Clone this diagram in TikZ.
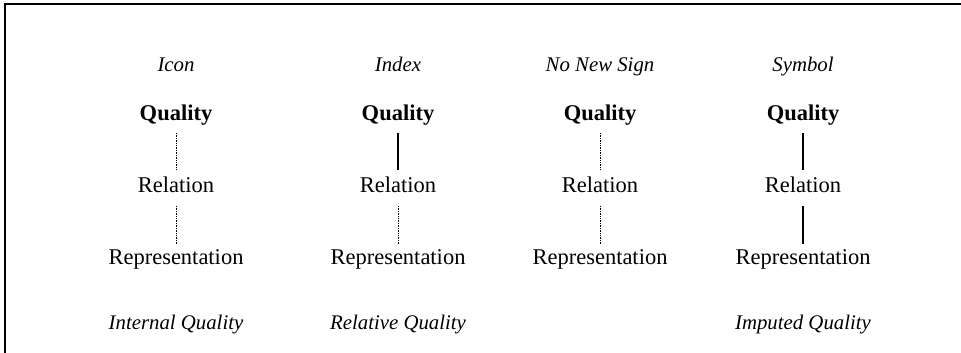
\documentclass[tikz,border=0pt]{standalone}
\usepackage{fontspec}
\setmainfont{Liberation Serif}
\usetikzlibrary{calc}
\begin{document}
\begin{tikzpicture}[x=1pt,y=1pt,
  lbl/.style={font=\fontsize{22.5}{26}\selectfont, inner sep=0pt, anchor=base},
  hd/.style={lbl, font=\fontsize{20.8}{24}\selectfont\itshape},
  qb/.style={lbl, font=\fontsize{22.5}{26}\selectfont\bfseries},
  dotl/.style={line width=0.9pt, dash pattern=on 0.9pt off 0.8pt},
  solidl/.style={line width=2.8pt}]
\useasboundingbox (0,0) rectangle (961,353);
\draw[line width=1.4pt] (5,0) -- (5,349) -- (961,349);
% columns
\foreach \n/\x/\t in {a/176/Icon, b/398/Index, c/600/No New Sign, d/803/Symbol}{
  \node[hd] (t\n) at (\x,353-72) {\t};
  \node[qb] (q\n) at (\x,353-121) {Quality};
  \node[lbl] (r\n) at (\x,353-193) {Relation};
  \node[lbl] (p\n) at (\x,353-265) {Representation};
  \coordinate (q\n1) at (\x,353-133);
  \coordinate (r\n0) at (\x,353-170);
  \coordinate (r\n1) at (\x,353-206);
  \coordinate (p\n0) at (\x,353-244);
}
\node[hd] (ia) at (176,353-330) {Internal Quality};
\node[hd] (ib) at (398,353-330) {Relative Quality};
\node[hd] (id) at (803,353-330) {Imputed Quality};
% connectors
\draw[dotl] (qa1) -- (ra0);
\draw[dotl] (ra1) -- (pa0);
\draw[solidl] (qb1) -- (rb0);
\draw[dotl] (rb1) -- (pb0);
\draw[dotl] (qc1) -- (rc0);
\draw[dotl] (rc1) -- (pc0);
\draw[solidl] (qd1) -- (rd0);
\draw[solidl] (rd1) -- (pd0);
\end{tikzpicture}
\end{document}
